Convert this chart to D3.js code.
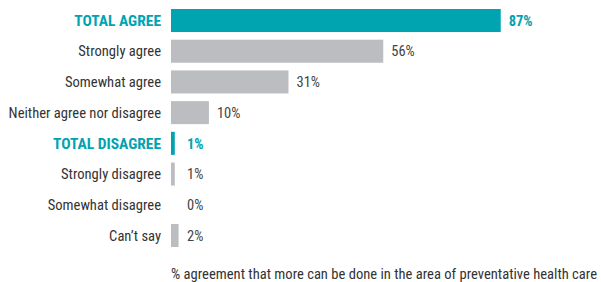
<!DOCTYPE html>
<html lang="en">
  <head>
    <meta charset="UTF-8" />
    <title>Preventative health care agreement</title>
    <style>
      body {
        margin: 0;
        background: #fff;
      }
      svg {
        display: block;
        font-family: "Liberation Sans Narrow", "Roboto Condensed", "Arial Narrow", sans-serif;
      }
      .cat {
        font-size: 14.6px;
        fill: #333;
      }
      .cat.total {
        font-weight: bold;
        font-size: 15.5px;
        fill: #00a3b0;
      }
      .val {
        font-size: 14.5px;
        fill: #444;
      }
      .val.total {
        font-weight: bold;
        fill: #00a3b0;
      }
      .note {
        font-size: 14.7px;
        fill: #333;
      }
    </style>
  </head>
  <body>
    <svg width="601" height="282"></svg>
    <script src="https://d3js.org/d3.v7.min.js"></script>
    <script>
      const categories = [
        "TOTAL AGREE",
        "Strongly agree",
        "Somewhat agree",
        "Neither agree nor disagree",
        "TOTAL DISAGREE",
        "Strongly disagree",
        "Somewhat disagree",
        "Can\u2019t say",
      ];
      const values = [87, 56, 31, 10, 1, 1, 0, 2];
      const totals = ["TOTAL AGREE", "TOTAL DISAGREE"];
      const note = "% agreement that more can be done in the area of preventative health care";

      const svg = d3.select("svg");
      const left = 171;

      const x = d3.scaleLinear().domain([0, 100]).range([left, left + 379]);
      const y = d3
        .scaleBand()
        .domain(categories)
        .range([9, 247])
        .paddingInner(0.25)
        .paddingOuter(0);

      const isTotal = (d) => totals.includes(d);

      const row = svg
        .append("g")
        .selectAll("g")
        .data(categories.map((c, i) => ({ cat: c, v: values[i] })))
        .join("g");

      row
        .append("rect")
        .attr("x", x(0))
        .attr("y", (d) => y(d.cat))
        .attr("height", y.bandwidth())
        .attr("width", (d) => x(d.v) - x(0))
        .attr("fill", (d) => (isTotal(d.cat) ? "#00a3b0" : "#bcbdc1"));

      row
        .append("text")
        .attr("class", (d) => "cat" + (isTotal(d.cat) ? " total" : ""))
        .attr("x", left - 10)
        .attr("y", (d) => y(d.cat) + y.bandwidth() / 2)
        .attr("dy", "0.36em")
        .attr("text-anchor", "end")
        .text((d) => d.cat);

      row
        .append("text")
        .attr("class", (d) => "val" + (isTotal(d.cat) ? " total" : ""))
        .attr("x", (d) => Math.max(x(d.v) + 8, x(0) + 16))
        .attr("y", (d) => y(d.cat) + y.bandwidth() / 2)
        .attr("dy", "0.36em")
        .text((d) => d.v + "%");

      // footer spans from bar baseline to near the right edge
      svg
        .append("text")
        .attr("class", "note")
        .attr("x", left)
        .attr("y", 279)
        .attr("textLength", 426)
        .attr("lengthAdjust", "spacingAndGlyphs")
        .text(note);
    </script>
  </body>
</html>
